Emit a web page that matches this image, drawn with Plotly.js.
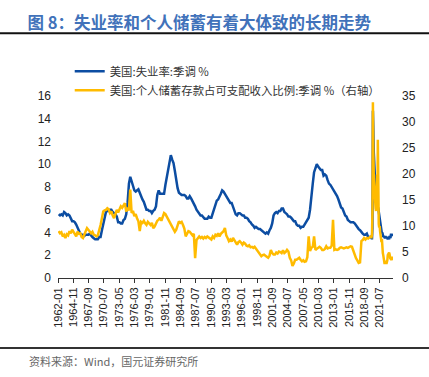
<!DOCTYPE html>
<html><head><meta charset="utf-8">
<script src="https://cdn.plot.ly/plotly-3.0.1.min.js"></script>
<style>html,body{margin:0;padding:0;background:#fff}#chart{width:429px;height:377px}</style>
</head><body><div id="chart"></div>
<script>
// Quarterly readings 1962Q1..2019Q4, then monthly 2020-01..2023-12
const firstYear = 1962, lastQuarterYear = 2019;
const unempQ = [
5.6,5.5,5.6,5.5, 5.8,5.7,5.5,5.6, 5.5,5.2,5.0,5.0, 4.9,4.7,4.4,4.1, 3.9,3.8,3.8,3.7,
3.8,3.8,3.8,3.9, 3.7,3.6,3.5,3.4, 3.4,3.4,3.6,3.6, 4.2,4.8,5.2,5.8, 5.9,5.9,6.0,6.0,
5.8,5.7,5.6,5.4, 4.9,4.9,4.8,4.8, 5.1,5.2,5.6,6.6, 8.3,8.9,8.5,8.3, 7.7,7.6,7.7,7.8,
7.5,7.1,6.9,6.7, 6.3,6.0,6.0,5.9, 5.9,5.7,5.9,6.0, 6.3,7.3,7.7,7.4, 7.4,7.4,7.4,8.2,
8.8,9.4,9.9,10.8, 10.4,10.1,9.4,8.5, 7.9,7.5,7.4,7.3, 7.3,7.3,7.2,7.0, 7.0,7.2,7.0,6.8,
6.6,6.3,6.0,5.8, 5.7,5.5,5.5,5.3, 5.2,5.2,5.2,5.4, 5.3,5.3,5.7,6.1, 6.6,6.8,6.9,7.1,
7.4,7.7,7.6,7.4, 7.2,7.1,6.8,6.6, 6.6,6.2,6.0,5.6, 5.5,5.7,5.7,5.6, 5.5,5.5,5.3,5.3,
5.2,5.0,4.9,4.7, 4.6,4.4,4.5,4.4, 4.3,4.3,4.2,4.1, 4.0,3.9,4.0,3.9, 4.2,4.4,4.8,5.5,
5.7,5.8,5.7,5.9, 5.9,6.1,6.1,5.8, 5.7,5.6,5.4,5.4, 5.3,5.1,5.0,5.0, 4.7,4.6,4.6,4.4,
4.5,4.5,4.7,4.8, 5.0,5.3,6.0,6.9, 8.3,9.3,9.6,10.0, 9.8,9.6,9.5,9.5, 9.0,9.1,9.0,8.6,
8.3,8.2,8.0,7.8, 7.7,7.5,7.2,6.9, 6.6,6.2,6.1,5.7, 5.5,5.4,5.1,5.0, 4.9,4.9,4.9,4.8,
4.6,4.4,4.3,4.2, 4.0,3.9,3.8,3.8, 3.9,3.6,3.6,3.6
];
const unempM = [
3.5,3.5,4.4,14.7,13.2,11.0,10.2,8.4,7.9,6.9,6.7,6.7,
6.4,6.2,6.1,6.1,5.8,5.9,5.4,5.1,4.7,4.5,4.2,3.9,
4.0,3.8,3.6,3.7,3.6,3.6,3.5,3.7,3.5,3.6,3.6,3.5,
3.4,3.6,3.5,3.4,3.7,3.6,3.5,3.8,3.8,3.8,3.7,3.9
];
const saveQ = [
9.0,8.6,8.8,8.0, 8.3,7.7,8.4,8.2, 9.0,8.6,9.3,8.8, 8.4,8.0,8.9,8.5, 8.6,7.9,7.7,8.5,
9.0,9.6,9.2,9.0, 8.6,8.9,8.3,8.2, 8.0,8.2,9.0,10.2, 11.5,12.8,13.0,13.1, 13.4,13.2,12.5,12.8,
12.0,11.5,12.3,13.1, 12.6,13.1,13.8,13.5, 14.0,14.4,12.8,13.5, 13.0,17.0,12.5,12.9, 11.9,12.3,11.5,10.9,
9.0,10.8,10.6,11.0, 10.5,10.2,10.8,10.4, 10.2,10.6,9.6,9.9, 10.5,11.0,11.2,11.6, 11.0,11.6,12.5,12.3,
11.8,11.5,11.0,10.5, 9.8,9.3,8.9,9.3, 10.2,10.9,10.6,10.8, 10.2,9.5,8.0,8.6, 9.0,8.9,8.6,8.2,
8.5,3.8,7.3,7.6, 8.0,7.7,7.9,7.6, 7.9,7.7,8.0,7.8, 7.6,7.4,8.0,7.7, 8.3,8.1,8.6,8.0,
8.5,8.7,9.0,9.6, 8.2,7.7,7.1,7.4, 7.0,7.7,7.2,7.0, 6.4,6.9,7.1,6.8, 6.4,6.8,6.6,6.2,
6.1,6.3,5.9,6.0, 5.8,6.0,5.6,5.4, 5.0,4.6,4.2,4.4, 4.5,4.3,4.1,3.9, 4.3,5.4,4.8,4.5,
4.5,4.9,4.7,5.1, 5.0,4.8,5.3,4.8, 5.0,5.4,5.1,3.9, 3.4,2.3,2.8,3.5, 3.5,3.8,3.9,3.5,
3.2,3.4,3.1,3.2, 4.0,8.0,5.2,5.8, 6.0,8.0,5.4,5.6, 5.8,6.0,5.8,5.4, 5.4,5.6,6.1,5.7,
5.8,5.8,6.2,11.2, 5.4,5.5,5.4,5.5, 5.8,5.9,5.8,5.7, 5.8,5.9,5.8,6.0, 6.1,6.0,5.2,4.2,
3.8,3.4,2.9,3.0, 7.1,7.3,7.7,7.4, 7.7,7.6,7.8,8.0
];
const saveM = [
7.9,8.3,12.9,33.8,24.2,19.2,17.8,14.5,14.1,13.4,12.9,13.6,
19.9,13.5,26.6,12.7,10.4,9.7,10.0,8.9,7.5,6.9,6.9,7.5,
5.0,4.8,4.4,3.4,3.0,2.7,3.0,3.0,3.1,2.7,2.9,3.4,
4.4,4.6,4.8,4.9,4.6,4.3,3.6,4.0,3.4,3.8,4.1,3.4
];
const tickLabels = ["1962-01","1964-11","1967-09","1970-07","1973-05","1976-03","1979-01","1981-11",
"1984-09","1987-07","1990-05","1993-03","1996-01","1998-11","2001-09","2004-07","2007-05","2010-03",
"2013-01","2015-11","2018-09","2021-07"];
const name1 = "美国:失业率:季调 %";
const name2 = "美国:个人储蓄存款占可支配收入比例:季调 %（右轴）";
const titleText = "图 8：失业率和个人储蓄有着大体致的长期走势";
const sourceText = "资料来源：Wind，国元证券研究所";

const pad = n => (n < 10 ? "0" : "") + n;
const dates = [];
for (let y = firstYear; y <= lastQuarterYear; y++) for (let q = 0; q < 4; q++) dates.push(y + "-" + pad(2 + 3 * q) + "-15");
for (let y = 2020; y <= 2023; y++) for (let m = 1; m <= 12; m++) dates.push(y + "-" + pad(m) + "-01");
const unemp = unempQ.concat(unempM);
const save = saveQ.concat(saveM);

const blue = "#0C4DA2", yellow = "#FFBB00";
const traces = [
  {x: dates, y: unemp, type: "scatter", mode: "lines", name: name1, line: {color: blue, width: 2.5}, yaxis: "y"},
  {x: dates, y: save, type: "scatter", mode: "lines", name: name2, line: {color: yellow, width: 2.5}, yaxis: "y2"}
];
const tickFont = {family: "Liberation Sans, Arial, sans-serif", size: 12, color: "#222"};
const layout = {
  width: 429, height: 377,
  margin: {l: 58, r: 36, t: 96, b: 99},
  paper_bgcolor: "#fff", plot_bgcolor: "#fff",
  showlegend: true,
  title: {text: "<b>" + titleText + "</b>", x: 0.064, xanchor: "left", xref: "container",
          y: 1 - 23 / 377, yanchor: "middle", yref: "container",
          font: {family: "Noto Sans CJK SC, sans-serif", size: 16.5, color: "#4172BA"}},
  legend: {x: 0.035, y: 1.215, xanchor: "left", yanchor: "top", bgcolor: "rgba(0,0,0,0)",
           font: {family: "Noto Sans CJK SC, sans-serif", size: 11.4, color: "#333"}, tracegroupgap: 0},
  xaxis: {type: "date", range: ["1962-01-01", "2023-12-20"], tickmode: "array",
          tickvals: tickLabels.map(s => s + "-01"), ticktext: tickLabels, tickangle: -90,
          ticks: "outside", ticklen: 4, tickcolor: "#333", showline: true, linecolor: "#333", linewidth: 1,
          showgrid: false, zeroline: false,
          tickfont: {family: "Liberation Sans, Arial, sans-serif", size: 11, color: "#222"}},
  yaxis: {range: [0, 16], dtick: 2, showgrid: false, zeroline: false, showline: false, ticks: "",
          tickfont: tickFont, ticklabelstandoff: 6},
  yaxis2: {range: [0, 35], dtick: 5, overlaying: "y", side: "right", showgrid: false, zeroline: false,
           showline: false, ticks: "", tickfont: tickFont, ticklabelstandoff: 8},
  shapes: [
    {type: "line", xref: "paper", yref: "paper", x0: -0.18, x1: 1.12, y0: (278.3 - 33.5) / 182, y1: (278.3 - 33.5) / 182,
     line: {color: "#111", width: 2}},
    {type: "line", xref: "paper", yref: "paper", x0: -0.18, x1: 1.12, y0: (278.3 - 348.3) / 182, y1: (278.3 - 348.3) / 182,
     line: {color: "#333", width: 2}}
  ],
  annotations: [
    {text: sourceText, xref: "paper", yref: "paper", x: (27 - 58) / 335, y: (278.3 - 361) / 182,
     xanchor: "left", yanchor: "middle", showarrow: false,
     font: {family: "Noto Sans CJK SC, sans-serif", size: 11, color: "#666"}}
  ]
};
Plotly.newPlot("chart", traces, layout, {displayModeBar: false, staticPlot: true});
</script></body></html>
